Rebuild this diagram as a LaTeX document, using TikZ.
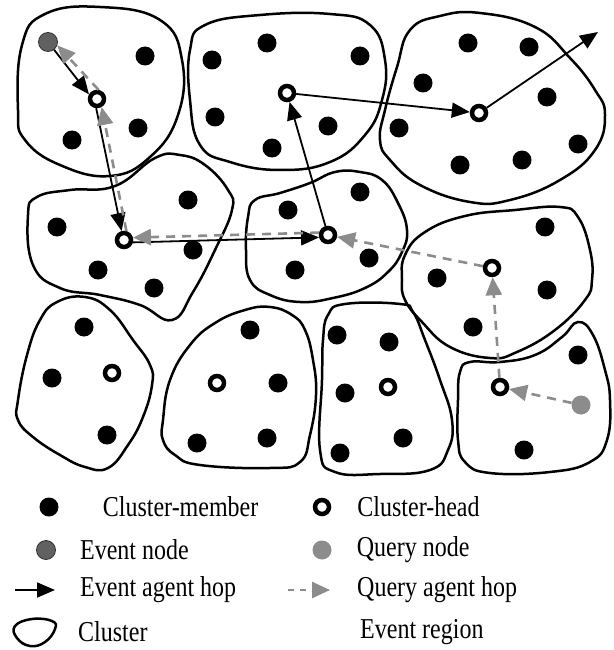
\documentclass[tikz,border=0pt]{standalone}
\usepackage{fontspec}
\setmainfont{Liberation Serif}
\usetikzlibrary{positioning, arrows.meta}
\tikzset{
  member/.style={circle, fill=black, inner sep=0pt, minimum size=19pt},
  head/.style={circle, draw=black, fill=white, line width=4.5pt, inner sep=0pt, minimum size=14pt},
  evnode/.style={circle, draw=black!80, fill=black!62, line width=0.8pt, inner sep=0pt, minimum size=19pt},
  qnode/.style={circle, fill=black!45, inner sep=0pt, minimum size=19pt},
  cluster/.style={line width=2.5pt},
  ehop/.style={line width=1.8pt, -{Triangle[length=18pt,width=15pt]}},
  qhop/.style={line width=2.6pt, draw=black!45, dash pattern=on 9pt off 7pt, -{Triangle[length=18pt,width=16pt]}},
  leyenda/.style={anchor=west, font=\fontsize{24}{24}\selectfont, inner sep=0pt}
}
\newcommand{\leytxt}[1]{\scalebox{1}[1.2]{#1}}

\begin{document}
\begin{tikzpicture}[x=1pt, y=-1pt]
  \useasboundingbox (0,0) rectangle (613,650);

  % clusters
  \draw[cluster] plot[smooth cycle, tension=0.75] coordinates {(18,110) (22,45) (45,14) (100,7) (160,20) (182,60) (178,115) (150,157) (110,176) (60,165) (25,140)};
  \draw[cluster] plot[smooth cycle, tension=0.75] coordinates {(190,50) (205,25) (260,15) (330,14) (370,25) (385,60) (382,100) (365,135) (330,162) (280,170) (230,162) (200,145) (190,100)};
  \draw[cluster] plot[smooth cycle, tension=0.75] coordinates {(380,140) (385,110) (397,67) (410,30) (440,16) (480,13) (535,27) (570,58) (595,90) (605,115) (595,150) (560,180) (510,200) (470,202) (420,185) (390,160)};
  \draw[cluster] plot[smooth cycle, tension=0.75] coordinates {(28,215) (37,197) (70,190) (115,186) (155,158) (180,155) (205,165) (228,190) (232,210) (215,250) (193,292) (172,320) (140,305) (100,295) (60,288) (33,265)};
  \draw[cluster] plot[smooth cycle, tension=0.75] coordinates {(248,217) (255,200) (280,193) (310,183) (335,172) (360,172) (382,180) (398,203) (407,230) (402,252) (388,272) (365,288) (333,298) (300,302) (270,295) (250,280) (246,250)};
  \draw[cluster] plot[smooth cycle, tension=0.75] coordinates {(402,280) (405,255) (425,232) (465,216) (515,210) (560,207) (578,217) (590,250) (592,280) (585,300) (555,330) (517,352) (490,358) (450,347) (422,322) (405,300)};
  \draw[cluster] plot[smooth cycle, tension=0.75] coordinates {(18,400) (27,355) (40,320) (57,302) (85,297) (110,310) (133,340) (150,365) (152,385) (143,417) (128,445) (108,468) (85,467) (60,455) (33,437) (18,420)};
  \draw[cluster] plot[smooth cycle, tension=0.75] coordinates {(163,420) (170,380) (190,345) (215,323) (245,310) (270,307) (292,315) (305,330) (313,360) (316,395) (310,435) (300,462) (270,468) (200,465) (175,455) (163,440)};
  \draw[cluster] plot[smooth cycle, tension=0.75] coordinates {(320,450) (322,380) (323,340) (328,315) (345,304) (400,304) (413,312) (425,340) (440,380) (452,420) (448,450) (430,470) (380,474) (335,472)};
  \draw[cluster] plot[smooth cycle, tension=0.75] coordinates {(458,400) (460,372) (470,362) (500,362) (535,355) (562,337) (578,322) (593,335) (605,370) (610,400) (607,440) (590,462) (550,472) (490,473) (465,462) (458,440)};

  % cluster members
  \foreach \p [count=\i] in {(145,56),(138,128),(72,140),
      (212,60),(267,43),(360,56),(215,117),(272,148),(328,126),
      (468,43),(529,47),(423,83),(547,97),(399,128),(578,144),(460,165),(522,160),
      (188,200),(57,227),(98,270),(193,250),(154,288),
      (288,210),(360,192),(295,270),(369,258),
      (545,227),(437,278),(547,290),(473,327),
      (84,327),(52,378),(107,435),
      (250,330),(278,383),(197,443),(267,438),
      (337,335),(389,342),(345,393),(403,438),(340,453),
      (578,355),(524,450)}
    \node[member] (m\i) at \p {};

  % cluster heads
  \node[head] (hA) at (97,99) {};
  \node[head] (hB) at (287,93) {};
  \node[head] (hC) at (479,113) {};
  \node[head] (hD) at (124,240) {};
  \node[head] (hE) at (328,235) {};
  \node[head] (hF) at (492,268) {};
  \node[head] (hG) at (112,373) {};
  \node[head] (hH) at (217,383) {};
  \node[head] (hI) at (388,387) {};
  \node[head] (hJ) at (500,387) {};

  \node[evnode] (ev) at (48,42) {};
  \node[qnode] (qn) at (581,405) {};
  \coordinate (fuera) at (598,32);

  % event agent
  \draw[ehop] (ev) -- (hA.150);
  \draw[ehop] (hA.-95) -- (hD.105);
  \draw[ehop] (hD.-15) -- (hE.195);
  \draw[ehop] (hE) -- (hB);
  \draw[ehop] (hB) -- (hC);
  \draw[ehop] (hC) -- (fuera);

  % query agent
  \draw[qhop] (qn) -- (hJ);
  \draw[qhop] (hJ) -- (hF);
  \draw[qhop] (hF) -- (hE);
  \draw[qhop] (hE.165) -- (hD.15);
  \draw[qhop] (hD.75) -- (hA.-60);
  \draw[qhop] (hA.80) -- (ev.-20);

  % legend
  \node[member] (lm) at (49,507) {};
  \node[leyenda, right=44pt of lm] (tm) {\leytxt{Cluster-member}};
  \node[head] (lh) at (322,507) {};
  \node[leyenda, right=26pt of lh] (th) {\leytxt{Cluster-head}};
  \node[evnode] (le) at (46,550) {};
  \node[leyenda, right=24pt of le] (te) {\leytxt{Event node}};
  \node[qnode] (lq) at (322,550) {};
  \node[leyenda, right=25pt of lq] (tq) {\leytxt{Query node}};
  \coordinate (la1) at (15,590);
  \coordinate (la2) at (55,590);
  \draw[ehop] (la1) -- (la2);
  \node[leyenda, right=25pt of la2] (ta) {\leytxt{Event agent hop}};
  \coordinate (lqa1) at (288,590);
  \coordinate (lqa2) at (330,590);
  \draw[qhop, dash pattern=on 6pt off 6pt] (lqa1) -- (lqa2);
  \node[leyenda, right=27pt of lqa2] (tqa) {\leytxt{Query agent hop}};
  \draw[cluster] plot[smooth cycle, tension=0.75] coordinates {(15,626) (32,619) (52,621) (55,629) (45,642) (30,646) (17,638)};
  \coordinate (lc) at (55,632);
  \node[leyenda, right=23pt of lc] (tc) {\leytxt{Cluster}};
  \node[leyenda] (tr) at (360,632) {\leytxt{Event region}};
\end{tikzpicture}
\end{document}
